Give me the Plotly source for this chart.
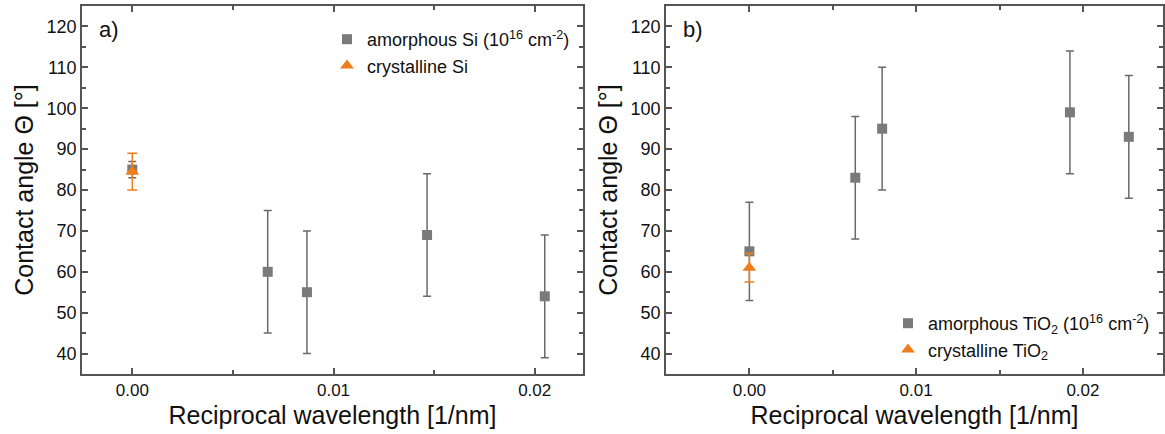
import plotly.graph_objects as go
from plotly.subplots import make_subplots

# Panel a) Si
si_am_x = [0.0, 0.00673, 0.00868, 0.01465, 0.0205]
si_am_y = [85, 60, 55, 69, 54]
si_am_err = [2, 15, 15, 15, 15]
si_cr_x = [0.0]
si_cr_y = [84.5]
si_cr_err = [4.5]

# Panel b) TiO2
ti_am_x = [0.0, 0.00635, 0.00796, 0.01922, 0.02275]
ti_am_y = [65, 83, 95, 99, 93]
ti_am_err = [12, 15, 15, 15, 15]
ti_cr_x = [0.0]
ti_cr_y = [61]
ti_cr_err = [3.5]

GRAY = "#7a7a7a"
ERR = "#6a6a6a"
ORANGE = "#f07d1c"
FONT = "Liberation Sans, Arial, sans-serif"

fig = make_subplots(rows=1, cols=2)

fig.add_trace(go.Scatter(x=si_am_x, y=si_am_y, mode="markers",
    error_y=dict(type="data", array=si_am_err, color=ERR, thickness=1.5, width=4),
    marker=dict(symbol="square", size=10, color=GRAY),
    name="amorphous Si (10<sup>16</sup> cm<sup>-2</sup>)", legend="legend"), row=1, col=1)
fig.add_trace(go.Scatter(x=si_cr_x, y=si_cr_y, mode="markers",
    error_y=dict(type="data", array=si_cr_err, color=ORANGE, thickness=1.5, width=5),
    marker=dict(symbol="triangle-up", size=12, color=ORANGE),
    name="crystalline Si", legend="legend"), row=1, col=1)

fig.add_trace(go.Scatter(x=ti_am_x, y=ti_am_y, mode="markers",
    error_y=dict(type="data", array=ti_am_err, color=ERR, thickness=1.5, width=4),
    marker=dict(symbol="square", size=10, color=GRAY),
    name="amorphous TiO<sub>2</sub> (10<sup>16</sup> cm<sup>-2</sup>)", legend="legend2"), row=1, col=2)
fig.add_trace(go.Scatter(x=ti_cr_x, y=ti_cr_y, mode="markers",
    error_y=dict(type="data", array=ti_cr_err, color=ORANGE, thickness=1.5, width=5),
    marker=dict(symbol="triangle-up", size=12, color=ORANGE),
    name="crystalline TiO<sub>2</sub>", legend="legend2"), row=1, col=2)

L, R, T, B = 82, 2, 6, 60
W, H = 1165, 434
pw = W - L - R
ph = H - T - B
fig.update_layout(
    width=W, height=H,
    margin=dict(l=L, r=R, t=T, b=B),
    paper_bgcolor="white", plot_bgcolor="white",
    font=dict(family=FONT, color="#111111"),
    showlegend=True,
    legend=dict(x=(327 - L) / pw, y=1 - (21 - T) / ph, xanchor="left", yanchor="top",
                font=dict(size=18, family=FONT), bgcolor="rgba(0,0,0,0)",
                itemwidth=30, tracegroupgap=0),
    legend2=dict(x=(888 - L) / pw, y=1 - (305 - T) / ph, xanchor="left", yanchor="top",
                 font=dict(size=18, family=FONT), bgcolor="rgba(0,0,0,0)",
                 itemwidth=30, tracegroupgap=0),
)

common_ax = dict(showline=True, linecolor="#555555", linewidth=1.5, mirror="ticks",
                 ticks="inside", ticklen=6, tickcolor="#555555", tickwidth=1.5,
                 showgrid=False, zeroline=False, automargin=False)

fig.update_xaxes(**common_ax, domain=[0, (583 - L) / pw], range=[-0.0025, 0.0224],
                 dtick=0.01, tick0=0, tickformat=".2f",
                 minor=dict(dtick=0.005, tick0=0, ticks="inside", ticklen=4, tickcolor="#555555"),
                 tickfont=dict(size=17),
                 title=dict(text="Reciprocal wavelength [1/nm]", font=dict(size=25), standoff=7),
                 row=1, col=1)
fig.update_xaxes(**common_ax, domain=[(666 - L) / pw, 1.0], range=[-0.005, 0.0248],
                 dtick=0.01, tick0=0, tickformat=".2f",
                 minor=dict(dtick=0.005, tick0=0, ticks="inside", ticklen=4, tickcolor="#555555"),
                 tickfont=dict(size=17),
                 title=dict(text="Reciprocal wavelength [1/nm]", font=dict(size=25), standoff=7),
                 row=1, col=2)
for c in (1, 2):
    fig.update_yaxes(**common_ax, range=[35, 125], dtick=10, tick0=0,
                     minor=dict(dtick=5, tick0=0, ticks="inside", ticklen=4, tickcolor="#555555"),
                     tickfont=dict(size=18),
                     title=dict(text="Contact angle Θ [°]", font=dict(size=25), standoff=6),
                     row=1, col=c)

fig.add_annotation(text="a)", xref="x domain", yref="y domain", x=0.03, y=0.975,
                   xanchor="left", yanchor="top", showarrow=False, font=dict(size=22, family=FONT))
fig.add_annotation(text="b)", xref="x2 domain", yref="y2 domain", x=0.03, y=0.975,
                   xanchor="left", yanchor="top", showarrow=False, font=dict(size=22, family=FONT))

fig.write_html("out.html")
